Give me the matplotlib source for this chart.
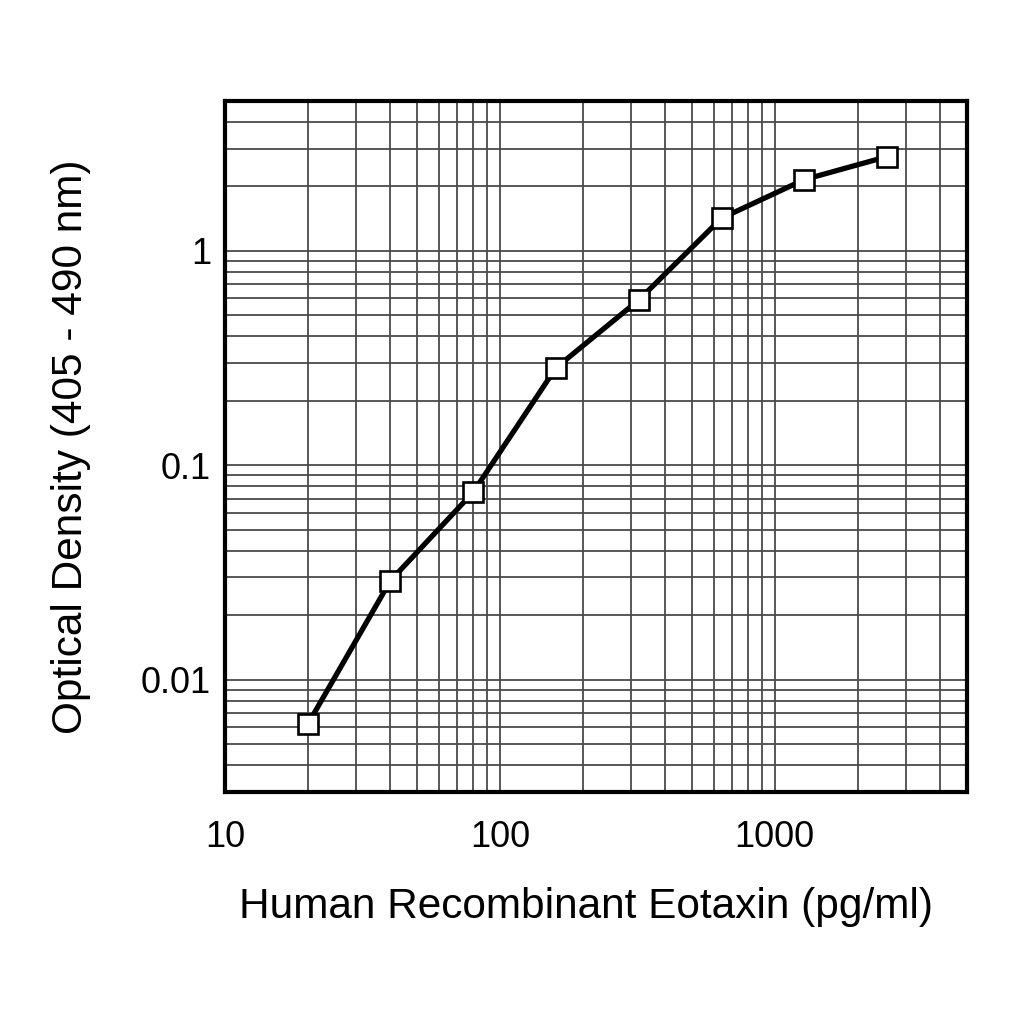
import matplotlib
matplotlib.use("Agg")
import matplotlib.pyplot as plt
from matplotlib.ticker import LogLocator, FixedLocator, FixedFormatter, NullFormatter

plt.rcParams['font.family'] = ['Liberation Sans', 'DejaVu Sans']

# concentration (pg/ml) and optical density readings
conc = [20, 40, 80, 160, 320, 640, 1280, 2560]
od = [0.0062, 0.029, 0.075, 0.285, 0.59, 1.42, 2.15, 2.75]

xticks = [10, 100, 1000]
xtick_labels = ["10", "100", "1000"]
yticks = [0.01, 0.1, 1]
ytick_labels = ["0.01", "0.1", "1"]

fig = plt.figure(figsize=(10.24, 10.24), dpi=100)
ax = fig.add_axes([0.2197, 0.2266, 0.7246, 0.6748])

ax.set_xscale("log")
ax.set_yscale("log")
ax.set_xlim(10, 5000)
ax.set_ylim(0.003, 5)

ax.xaxis.set_major_locator(FixedLocator(xticks))
ax.xaxis.set_major_formatter(FixedFormatter(xtick_labels))
ax.yaxis.set_major_locator(FixedLocator(yticks))
ax.yaxis.set_major_formatter(FixedFormatter(ytick_labels))
ax.xaxis.set_minor_locator(LogLocator(base=10, subs=range(2, 10), numticks=20))
ax.yaxis.set_minor_locator(LogLocator(base=10, subs=range(2, 10), numticks=20))
ax.xaxis.set_minor_formatter(NullFormatter())
ax.yaxis.set_minor_formatter(NullFormatter())

ax.grid(True, which="both", color="#4a4a4a", linewidth=1.3)
ax.set_axisbelow(True)
ax.tick_params(which="both", length=0)
ax.tick_params(axis="x", labelsize=26, pad=20)
ax.tick_params(axis="y", labelsize=26, pad=10)

for s in ax.spines.values():
    s.set_linewidth(3)

ax.plot(conc, od, color="black", linewidth=3.8, marker="s", markersize=14.5,
        markerfacecolor="white", markeredgecolor="black", markeredgewidth=1.9,
        zorder=5, clip_on=False)

ax.set_xlabel("Human Recombinant Eotaxin (pg/ml)", fontsize=30.5)
ax.xaxis.set_label_coords(0.487, -0.137)
ax.set_ylabel("Optical Density (405 - 490 nm)", fontsize=30.5, labelpad=36)

fig.savefig("out.png", dpi=100)
